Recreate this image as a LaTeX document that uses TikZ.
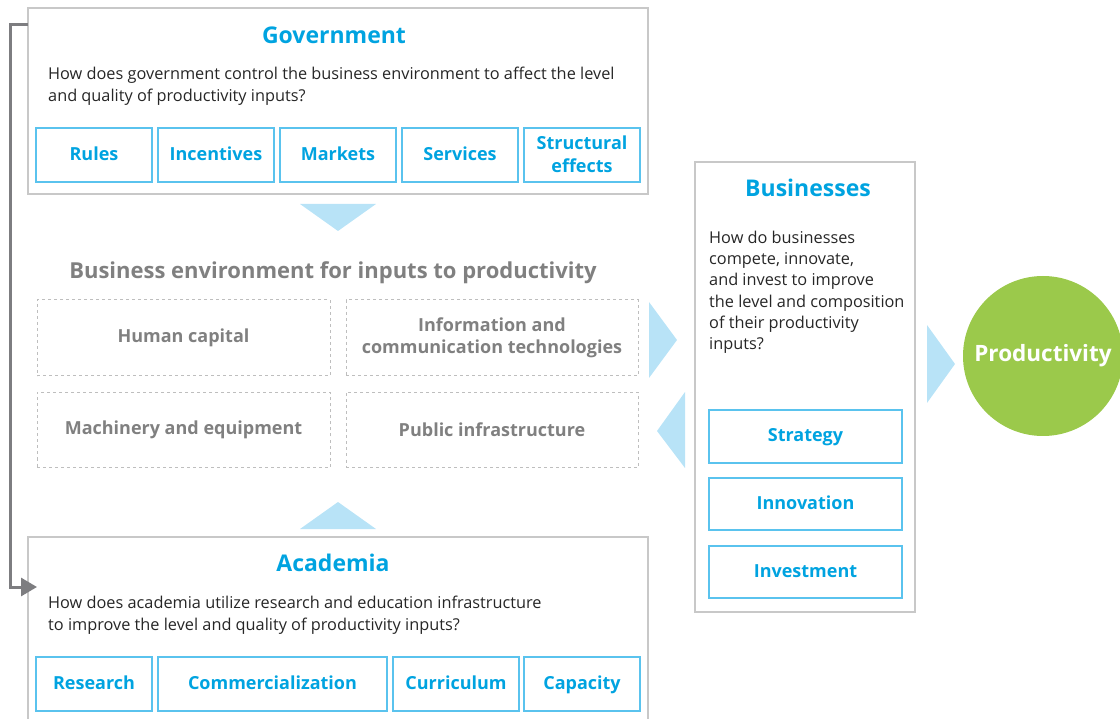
\documentclass[tikz,border=0pt]{standalone}
\usepackage{fontspec}
\setmainfont{Open Sans}
\usetikzlibrary{arrows.meta}
\definecolor{titleblue}{RGB}{0,163,224}
\definecolor{boxblue}{RGB}{90,195,238}
\definecolor{arrowblue}{RGB}{184,227,247}
\definecolor{framegray}{RGB}{200,200,200}
\definecolor{textgray}{RGB}{128,128,128}
\definecolor{dashgray}{RGB}{190,190,190}
\definecolor{prodgreen}{RGB}{155,201,75}
\definecolor{linegray}{RGB}{125,125,128}
\tikzset{
  frame/.style={draw=framegray, line width=1.2pt, inner sep=0pt},
  heading/.style={text=titleblue, font=\bfseries\fontsize{23}{27}\selectfont},
  question/.style={anchor=north west, align=left, inner sep=0pt, text=black!85, font=\fontsize{16.3}{21.5}\selectfont},
  tag/.style={draw=boxblue, line width=1.5pt, text=titleblue, inner sep=0pt, align=center, text depth=0.25em, font=\bfseries\fontsize{18}{23}\selectfont},
  input/.style={draw=dashgray, dashed, line width=1pt, text=textgray, inner sep=0pt, align=center, font=\bfseries\fontsize{18}{22}\selectfont},
  flow/.style={fill=arrowblue, draw=none},
  loop/.style={draw=linegray, line width=3pt, -{Triangle[length=16pt,width=18pt]}}
}
\begin{document}
\begin{tikzpicture}[x=1pt,y=-1pt]
		\useasboundingbox (0,0) rectangle (1120,719);
		\node[frame, minimum width=620, minimum height=186] (gov) at (338,101) {};
		\node[heading] (govtitle) at (334,35) {Government};
		\node[question] (govtext) at (48,67) {How does government control the business environment to affect the level\\and quality of productivity inputs?};
		\node[tag, minimum width=116, minimum height=54] (rules) at (94,155) {Rules};
		\node[tag, minimum width=116, minimum height=54] (incentives) at (216,155) {Incentives};
		\node[tag, minimum width=116, minimum height=54] (markets) at (338,155) {Markets};
		\node[tag, minimum width=116, minimum height=54] (services) at (460,155) {Services};
		\node[tag, minimum width=116, minimum height=54] (structural) at (582,155) {Structural\\effects};
		\fill[flow] (300,204)--(376,204)--(338,231)--cycle;
		\node[text=textgray, font=\bfseries\fontsize{22}{26}\selectfont] (envtitle) at (333,273) {Business environment for inputs to productivity};
		\node[input, minimum width=293, minimum height=76] (human) at (183.5,338) {Human capital};
		\node[input, minimum width=292, minimum height=76] (ict) at (492,338) {Information and\\communication technologies};
		\node[input, minimum width=293, minimum height=75] (machinery) at (183.5,430) {Machinery and equipment};
		\node[input, minimum width=292, minimum height=75] (public) at (492,430) {Public infrastructure};
		\fill[flow] (649,302)--(677,340)--(649,378)--cycle;
		\fill[flow] (685,392)--(657,431)--(685,468)--cycle;
		\fill[flow] (300,529)--(376,529)--(338,502)--cycle;
		\node[frame, minimum width=620, minimum height=190] (academia) at (338,632) {};
		\node[heading] (acatitle) at (333,563) {Academia};
		\node[question] (acatext) at (48,596) {How does academia utilize research and education infrastructure\\to improve the level and quality of productivity inputs?};
		\node[tag, minimum width=116, minimum height=54] (research) at (94,684) {Research};
		\node[tag, minimum width=229, minimum height=54] (commercial) at (272.5,684) {Commercialization};
		\node[tag, minimum width=126, minimum height=54] (curriculum) at (456,684) {Curriculum};
		\node[tag, minimum width=116, minimum height=54] (capacity) at (582,684) {Capacity};
		\node[frame, minimum width=220, minimum height=450] (business) at (805,387) {};
		\node[heading] (bustitle) at (808,188) {Businesses};
		\node[question, font=\fontsize{16.3}{21.2}\selectfont] (bustext) at (709,231) {How do businesses\\compete, innovate,\\and invest to improve\\the level and composition\\of their productivity\\inputs?};
		\node[tag, minimum width=193, minimum height=53] (strategy) at (805.5,436.5) {Strategy};
		\node[tag, minimum width=193, minimum height=52] (innovation) at (805.5,504) {Innovation};
		\node[tag, minimum width=193, minimum height=52] (investment) at (805.5,572) {Investment};
		\fill[flow] (927,325)--(955,364)--(927,403)--cycle;
		\node[circle, fill=prodgreen, minimum size=160, inner sep=0pt, text=white, font=\bfseries\fontsize{22.5}{26}\selectfont] (productivity) at (1043,356) {Productivity};
		\coordinate (govhook) at (28,25);
		\coordinate (acahook) at (37,587);
		\draw[loop] (govhook) -- ++(-18,0) |- (acahook);
	\end{tikzpicture}
\end{document}
